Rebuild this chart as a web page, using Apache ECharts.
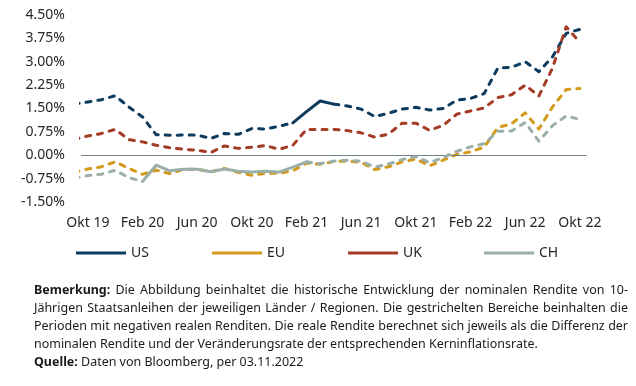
<!DOCTYPE html>
<html><head><meta charset="utf-8">
<script src="https://cdn.jsdelivr.net/npm/echarts@6/dist/echarts.min.js"></script>
<style>html,body{margin:0;padding:0;background:#fff}#c{width:636px;height:386px}</style>
</head><body><div id="c"></div>
<script>
const months = ['Sep 19','Okt 19','Nov 19','Dez 19','Jan 20','Feb 20','Mär 20','Apr 20','Mai 20','Jun 20','Jul 20','Aug 20','Sep 20','Okt 20','Nov 20','Dez 20','Jan 21','Feb 21','Mär 21','Apr 21','Mai 21','Jun 21','Jul 21','Aug 21','Sep 21','Okt 21','Nov 21','Dez 21','Jan 22','Feb 22','Mär 22','Apr 22','Mai 22','Jun 22','Jul 22','Aug 22','Sep 22','Okt 22'];
const tickLabels = ['Okt 19','Feb 20','Jun 20','Okt 20','Feb 21','Jun 21','Okt 21','Feb 22','Jun 22','Okt 22'];
const us = [1.64,1.71,1.78,1.91,1.55,1.23,0.66,0.64,0.65,0.65,0.54,0.70,0.67,0.86,0.84,0.93,1.04,1.40,1.74,1.64,1.58,1.48,1.24,1.35,1.48,1.54,1.45,1.50,1.77,1.82,1.98,2.80,2.82,3.00,2.68,3.16,3.91,4.04];
const eu = [-0.55,-0.44,-0.37,-0.21,-0.42,-0.61,-0.48,-0.59,-0.45,-0.45,-0.53,-0.42,-0.55,-0.64,-0.58,-0.58,-0.50,-0.25,-0.29,-0.20,-0.19,-0.23,-0.46,-0.37,-0.21,-0.12,-0.34,-0.16,0.03,0.11,0.26,0.89,1.01,1.36,0.84,1.55,2.11,2.14];
const uk = [0.50,0.62,0.70,0.83,0.50,0.43,0.32,0.24,0.19,0.16,0.09,0.30,0.22,0.26,0.31,0.19,0.32,0.83,0.83,0.83,0.79,0.72,0.58,0.68,1.03,1.03,0.80,0.96,1.32,1.42,1.52,1.85,1.94,2.25,1.90,2.80,4.12,3.62];
const ch = [-0.74,-0.65,-0.61,-0.48,-0.72,-0.84,-0.32,-0.50,-0.45,-0.45,-0.53,-0.44,-0.51,-0.54,-0.51,-0.54,-0.38,-0.21,-0.27,-0.19,-0.16,-0.19,-0.38,-0.28,-0.14,-0.04,-0.24,-0.07,0.13,0.27,0.37,0.77,0.78,1.05,0.45,0.95,1.26,1.15];
// periods drawn solid (positive real yields)
const usSolid = ['Jan 21','Apr 21'];
const euSolid = null;
const ukSolid = null;
const chSolid = ['Feb 20','Feb 21'];

const countries = [
  {name:'US', vals:us, solid:usSolid, color:'#0d3b5e'},
  {name:'EU', vals:eu, solid:euSolid, color:'#d39a1c'},
  {name:'UK', vals:uk, solid:ukSolid, color:'#a33b25'},
  {name:'CH', vals:ch, solid:chSolid, color:'#9aafa8'}
];
const idx0 = months.indexOf('Okt 19');
const series = [];
countries.forEach((c, ci) => {
  let s0 = -1, s1 = -1;
  if (c.solid) { s0 = months.indexOf(c.solid[0]); s1 = months.indexOf(c.solid[1]); }
  const dashed = c.vals.map((v,k) => [k - idx0, (s0 >= 0 && k > s0 && k < s1) ? null : v]);
  const solid = c.vals.map((v,k) => [k - idx0, (s0 >= 0 && k >= s0 && k <= s1) ? v : null]);
  series.push({type:'line', name:c.name, data:dashed, symbol:'none', connectNulls:false, z:2+ci, clip:true,
    lineStyle:{color:c.color, width:3, type:[5,7], cap:'round', join:'round'}, itemStyle:{color:c.color}, silent:true});
  if (s0 >= 0) series.push({type:'line', name:c.name, data:solid, symbol:'none', connectNulls:false, z:2+ci, clip:true,
    lineStyle:{color:c.color, width:3, type:'solid', cap:'round', join:'round'}, itemStyle:{color:c.color}, silent:true});
});
series.push({type:'line', data:[], z:1, markLine:{silent:true, symbol:'none', label:{show:false},
  lineStyle:{color:'#6e7f8e', width:1, type:'solid'}, data:[{yAxis:0}]}});

const legendLefts = [71,207,343,479];
const legends = countries.map((c,i) => ({data:[{name:c.name, icon:'rect'}], left:legendLefts[i], top:241,
  itemWidth:50, itemHeight:3, itemGap:5, textStyle:{fontFamily:'Noto Sans', fontSize:14, color:'#262626'},
  selectedMode:false}));

// Note text (justified)
const cv = document.createElement('canvas').getContext('2d');
function mw(t, bold, size){ cv.font = (bold?'bold ':'') + size + 'px "Noto Sans"'; return cv.measureText(t).width; }
const noteLines = [
  {bold:'Bemerkung:', text:'Die Abbildung beinhaltet die historische Entwicklung der nominalen Rendite von 10-', justify:true},
  {bold:null, text:'Jährigen Staatsanleihen der jeweiligen Länder / Regionen. Die gestrichelten Bereiche beinhalten die', justify:true},
  {bold:null, text:'Perioden mit negativen realen Renditen. Die reale Rendite berechnet sich jeweils als die Differenz der', justify:true},
  {bold:null, text:'nominalen Rendite und der Veränderungsrate der entsprechenden Kerninflationsrate.', justify:false},
  {bold:'Quelle:', text:'Daten von Bloomberg, per 03.11.2022', justify:false}
];
const noteX = 34, noteR = 628, noteY0 = 290, noteLH = 18.2;
let fs = 13 * 592 / mw(noteLines[2].text, false, 13);
fs = Math.min(13.5, fs);
const graphics = [];
noteLines.forEach((ln, li) => {
  const words = [];
  if (ln.bold) words.push({t:ln.bold, b:true});
  ln.text.split(' ').forEach(w => words.push({t:w, b:false}));
  const widths = words.map(w => mw(w.t, w.b, fs));
  const total = widths.reduce((a,b)=>a+b,0);
  let gap = mw(' ', false, fs);
  if (ln.justify) gap = (noteR - noteX - total) / (words.length - 1);
  let x = noteX;
  words.forEach((w,i) => {
    graphics.push({type:'text', x:x, y:noteY0 + li*noteLH, silent:true,
      style:{text:w.t, fill:'#1a1a1a', font:(w.b?'bold ':'') + fs + 'px "Noto Sans"', verticalAlign:'middle', align:'left'}});
    x += widths[i] + gap;
  });
});

const chart = echarts.init(document.getElementById('c'), null, {renderer:'canvas'});
chart.setOption({
  animation:false,
  backgroundColor:'#fff',
  grid:{left:81, right:49.3, top:15, bottom:184, containLabel:false},
  xAxis:{type:'value', min:-0.5, max:36.5,
    axisLine:{show:false}, axisTick:{show:false}, splitLine:{show:false},
    axisLabel:{customValues:tickLabels.map(l => months.indexOf(l) - idx0),
      formatter:v => months[Math.round(v) + idx0] || '', margin:14,
      fontFamily:'Noto Sans', fontSize:14, color:'#262626'}},
  yAxis:{type:'value', min:-1.5, max:4.5, interval:0.75,
    axisLine:{show:false}, axisTick:{show:false}, splitLine:{show:false},
    axisLabel:{formatter:v => v.toFixed(2) + '%', margin:16, fontFamily:'Noto Sans', fontSize:14, color:'#262626'}},
  legend:legends,
  series:series,
  graphic:graphics
});
</script></body></html>
